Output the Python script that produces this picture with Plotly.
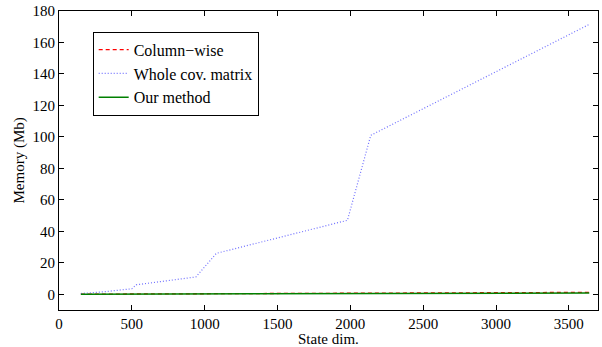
import plotly.graph_objects as go

state_dim = [150, 300, 500, 530, 940, 1080, 1980, 2140, 3640]
whole_cov = [0.5, 1.5, 3.5, 6.0, 11.0, 26.0, 47.0, 101.0, 171.5]
column_wise = [0.05, 0.1, 0.15, 0.16, 0.3, 0.35, 0.65, 0.7, 1.2]
our_method = [0.03, 0.06, 0.1, 0.11, 0.2, 0.23, 0.45, 0.5, 0.85]

x_ticks = [0, 500, 1000, 1500, 2000, 2500, 3000, 3500]
y_ticks = [0, 20, 40, 60, 80, 100, 120, 140, 160, 180]

font = "Liberation Serif, Times New Roman, serif"
fs = 15

fig = go.Figure()
fig.add_trace(go.Scatter(x=state_dim, y=column_wise, mode="lines", name="Column\u2212wise",
                         line=dict(color="#ff0000", dash="4px,3px", width=1.3)))
fig.add_trace(go.Scatter(x=state_dim, y=whole_cov, mode="lines", name="Whole cov. matrix",
                         line=dict(color="#7070ff", dash="1px,2px", width=1.2)))
fig.add_trace(go.Scatter(x=state_dim, y=our_method, mode="lines", name="Our method",
                         line=dict(color="#008000", width=1.5)))

axis_common = dict(showline=True, linecolor="black", linewidth=1, mirror="ticks",
                   ticks="inside", ticklen=5, tickcolor="black", showgrid=False,
                   zeroline=False, automargin=False,
                   tickfont=dict(family=font, size=fs, color="black"))

fig.update_layout(
    width=602, height=347,
    margin=dict(l=59, r=4, t=11, b=37),
    paper_bgcolor="white", plot_bgcolor="white",
    font=dict(family=font, size=fs, color="black"),
    xaxis=dict(range=[0, 3700], tickvals=x_ticks, **axis_common),
    yaxis=dict(range=[-10, 180], tickvals=y_ticks, **axis_common),
    legend=dict(x=0.0625, y=0.931, xanchor="left", yanchor="top",
                bordercolor="black", borderwidth=1, bgcolor="white",
                font=dict(family=font, size=16), tracegroupgap=0, itemwidth=30),
    showlegend=True,
    annotations=[
        dict(text="State dim.", xref="paper", yref="paper", x=0.5, y=-0.098,
             xanchor="center", yanchor="middle", showarrow=False,
             font=dict(family=font, size=fs)),
        dict(text="Memory (Mb)", xref="paper", yref="paper", x=-0.0742, y=0.5,
             xanchor="center", yanchor="middle", textangle=-90, showarrow=False,
             font=dict(family=font, size=fs)),
    ],
)

fig.write_html("out.html", config={"displayModeBar": False},
               post_script="document.body.style.margin='0';document.body.style.overflow='hidden';")
